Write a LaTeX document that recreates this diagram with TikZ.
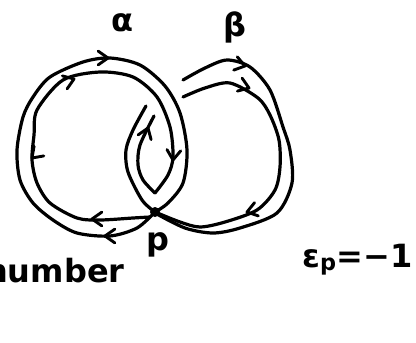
\documentclass[tikz,border=0pt]{standalone}
\usepackage{fontspec}
\setmainfont{DejaVu Sans}
\begin{document}
\begin{tikzpicture}[
  x=1pt,y=-1pt,
  edge/.style={line width=3.2pt,line cap=round,line join=round},
  barb/.style={line width=2.9pt,line cap=round,line join=round},
  lbl/.style={inner sep=0pt,font=\fontsize{32}{32}\selectfont\bfseries}
]
\useasboundingbox (0,0) rectangle (416,343);
\coordinate (P) at (155,212);
% loop alpha, outer and inner edge
\draw[edge] plot[smooth] coordinates {(P) (137,228) (110,236) (77,233) (53,220) (33,203) (20,180) (17,150) (23,117) (33,97) (50,77) (83,62) (110,58) (140,65) (165,86) (180,113) (187,150) (183,183) (168,203) (P)};
\draw[edge] plot[smooth] coordinates {(150,217) (133,218) (100,220) (77,218) (50,203) (37,183) (32,160) (34,135) (37,110) (63,80) (100,72) (133,77) (157,97) (170,127) (173,157) (168,175) (155,193)};
% strand of beta inside alpha
\draw[edge] plot[smooth] coordinates {(P) (142,200) (128,172) (126,150) (133,130) (146,106)};
\draw[edge] plot[smooth] coordinates {(155,193) (143,180) (138,165) (140,145) (154,116)};
% loop beta
\draw[edge] plot[smooth] coordinates {(P) (180,222) (200,227) (225,222) (257,210) (275,190) (280,167) (279,140) (270,115) (258,98) (230,83) (205,88) (183,97)};
\draw[edge] plot[smooth] coordinates {(155,213) (185,228) (213,233) (240,228) (277,213) (292,183) (290,150) (283,127) (270,90) (250,67) (227,60) (205,68) (183,80)};
\fill (P) circle (5);
% arrow heads
\foreach \x/\y/\a in {108/58/0, 74/79/-20, 32/158/135, 92/219/180, 105/236/180,
  173/160/95, 148/128/-70, 245/66/15, 249/88/20, 247/212/164}
  \draw[barb] (\x,\y) ++(\a+145:12) -- (\x,\y) -- ++(\a-145:12);
% labels
\node[lbl] (alpha) at (122,23) {α};
\node[lbl] (beta) at (235,27) {β};
\node[lbl,anchor=base] (p) at (158,250) {p};
\node[lbl,anchor=base west] (number) at (-15,282) {number};
\node[lbl,anchor=base west] (eps) at (302,267) {ε\textsubscript{p}=−1};
\end{tikzpicture}
\end{document}
